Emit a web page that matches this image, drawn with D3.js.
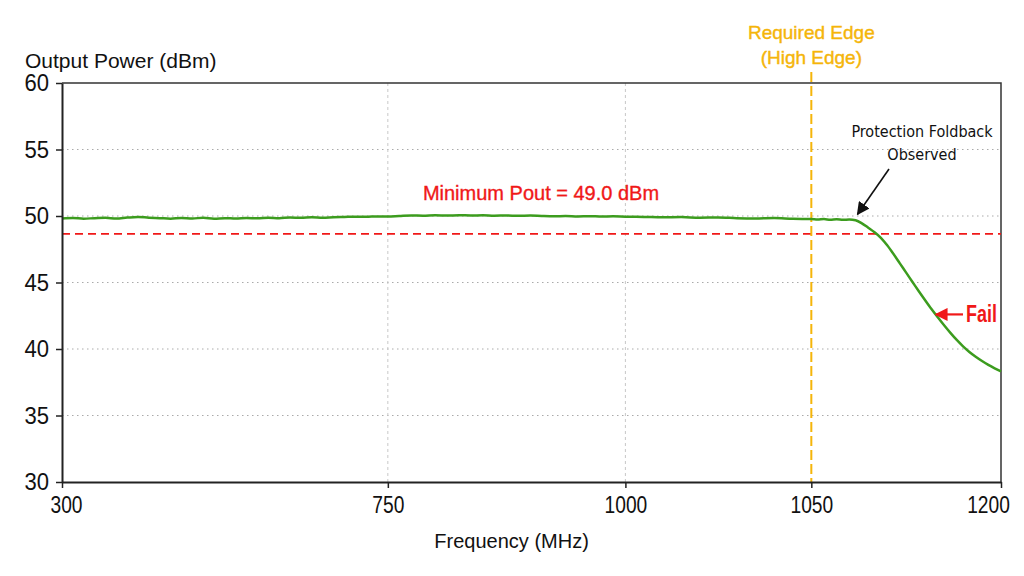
<!DOCTYPE html>
<html>
<head>
<meta charset="utf-8">
<script src="https://cdn.jsdelivr.net/npm/d3@7"></script>
<style>
  body { margin: 0; background: #fff; }
  text { font-family: "Liberation Sans", Arial, sans-serif; }
  .narrow { font-family: "DejaVu Sans Condensed", "Liberation Sans", sans-serif; }
</style>
</head>
<body>
<div id="container"></div>
<script>
/* CONSTANTS AND GLOBALS */
const width = 1024,
  height = 576,
  margin = { top: 83, bottom: 94, left: 62, right: 23 };

/* DATA */
// frequency (MHz) and measured output power (dBm)
const freq = [
  300, 315, 330, 345, 360, 375, 390, 405, 420, 435, 450, 465, 480, 495, 510, 525,
  540, 555, 570, 585, 600, 615, 630, 645, 660, 675, 690, 705, 720, 735, 750,
  762, 775, 787, 800, 812, 825, 837, 850, 862, 875, 887, 900, 912, 925, 937, 950,
  962, 975, 987, 1000, 1005, 1010, 1015, 1020, 1025, 1030, 1035, 1040, 1045, 1050,
  1055, 1060, 1065, 1070, 1075, 1080, 1085, 1090, 1095, 1100, 1105, 1110, 1115,
  1120, 1125, 1130, 1135, 1140, 1145, 1150, 1155, 1160, 1165, 1170, 1175, 1180,
  1185, 1190, 1195, 1200
];
const pout = [
  49.82, 49.85, 49.80, 49.84, 49.86, 49.81, 49.88, 49.93, 49.87, 49.84, 49.80, 49.85, 49.82, 49.86, 49.80, 49.84,
  49.81, 49.85, 49.83, 49.87, 49.84, 49.88, 49.86, 49.90, 49.87, 49.91, 49.93, 49.95, 49.94, 49.97, 49.96,
  50.00, 50.04, 50.02, 50.05, 50.03, 50.06, 50.04, 50.05, 50.02, 50.04, 50.01, 50.03, 50.00, 49.98, 50.00, 49.97,
  49.99, 49.96, 49.98, 49.95, 49.93, 49.90, 49.92, 49.87, 49.89, 49.84, 49.82, 49.85, 49.79, 49.77,
  49.74, 49.77, 49.72, 49.75, 49.71, 49.74, 49.68, 49.45, 49.12, 48.78, 48.36, 47.80, 47.14,
  46.44, 45.74, 45.04, 44.34, 43.66, 43.00, 42.38, 41.78, 41.21, 40.68, 40.20, 39.78, 39.42,
  39.10, 38.81, 38.55, 38.31
];

const xTicks = [300, 750, 1000, 1050, 1200];
const xTickFrac = [0, 0.347, 0.6, 0.798, 1]; // uneven spacing of the frequency axis
const yTicks = [30, 35, 40, 45, 50, 55, 60];

const minPoutLine = 48.65;
const minPoutLabel = "Minimum Pout = 49.0 dBm";
const edgeFreq = 1050;
const foldbackPoint = { f: 1085, p: 49.68 };
const failPoint = { f: 1148.5, p: 42.6 };

const data = freq.map((f, i) => ({ f, p: pout[i] }));

/* SCALES */
const plotW = width - margin.left - margin.right;
const xScale = d3.scaleLinear()
  .domain(xTicks)
  .range(xTickFrac.map(t => margin.left + t * plotW));

const yScale = d3.scaleLinear()
  .domain([30, 60])
  .range([height - margin.bottom, margin.top]);

/* HTML ELEMENTS */
const svg = d3.select("#container")
  .append("svg")
  .attr("width", width)
  .attr("height", height);

const defs = svg.append("defs");
function arrowMarker(id, color, size) {
  defs.append("marker")
    .attr("id", id)
    .attr("viewBox", "0 0 10 10")
    .attr("refX", 9).attr("refY", 5)
    .attr("markerWidth", size).attr("markerHeight", size)
    .attr("markerUnits", "userSpaceOnUse")
    .attr("orient", "auto")
    .append("path")
    .attr("d", "M0,0 L10,5 L0,10 Z")
    .attr("fill", color);
}
arrowMarker("arrBlack", "#111", 13);
arrowMarker("arrRed", "#f01818", 13);

// grid
svg.append("g")
  .selectAll("line")
  .data(yTicks.filter(d => d > 30 && d < 60))
  .join("line")
  .attr("x1", margin.left).attr("x2", width - margin.right)
  .attr("y1", d => yScale(d)).attr("y2", d => yScale(d))
  .attr("stroke", "#aaa")
  .attr("stroke-width", 1)
  .attr("stroke-dasharray", "1.5,3.5");

svg.append("g")
  .selectAll("line")
  .data([750, 1000])
  .join("line")
  .attr("x1", d => xScale(d)).attr("x2", d => xScale(d))
  .attr("y1", margin.top).attr("y2", height - margin.bottom)
  .attr("stroke", "#c8c8c8")
  .attr("stroke-width", 1)
  .attr("stroke-dasharray", "3,3");

// frame (top + right)
svg.append("path")
  .attr("d", `M${margin.left},${margin.top} H${width - margin.right} V${height - margin.bottom}`)
  .attr("fill", "none")
  .attr("stroke", "#333")
  .attr("stroke-width", 1.5);

// minimum Pout line
svg.append("line")
  .attr("x1", margin.left).attr("x2", width - margin.right)
  .attr("y1", yScale(minPoutLine)).attr("y2", yScale(minPoutLine))
  .attr("stroke", "#f01818")
  .attr("stroke-width", 1.8)
  .attr("stroke-dasharray", "8,5");

// required edge line
svg.append("line")
  .attr("x1", xScale(edgeFreq)).attr("x2", xScale(edgeFreq))
  .attr("y1", 72).attr("y2", height - margin.bottom)
  .attr("stroke", "#f5b50a")
  .attr("stroke-width", 2)
  .attr("stroke-dasharray", "10,4");

// measured curve
const line = d3.line()
  .x(d => xScale(d.f))
  .y(d => yScale(d.p))
  .curve(d3.curveMonotoneX);

svg.append("path")
  .datum(data)
  .attr("d", line)
  .attr("fill", "none")
  .attr("stroke", "#3c9c1e")
  .attr("stroke-width", 2.5);

// axes
const xAxis = d3.axisBottom(xScale)
  .tickValues(xTicks)
  .tickFormat(d3.format("d"))
  .tickSize(6).tickPadding(8).tickSizeOuter(0);
const gx = svg.append("g")
  .attr("transform", `translate(0, ${height - margin.bottom})`)
  .call(xAxis);
gx.select(".domain").attr("stroke", "#222").attr("stroke-width", 2);
gx.selectAll(".tick line").attr("stroke", "#222").attr("stroke-width", 1.5);
gx.selectAll(".tick text")
  .attr("font-size", 24)
  .attr("font-family", "'Liberation Sans', Arial, sans-serif")
  .attr("fill", "#111")
  .attr("transform", d => `translate(${d === 300 ? 4 : d === 1200 ? -13 : 0},0) scale(0.8,1)`);

const yAxis = d3.axisLeft(yScale).tickValues(yTicks).tickSize(6).tickPadding(8).tickSizeOuter(0);
const gy = svg.append("g")
  .attr("transform", `translate(${margin.left}, 0)`)
  .call(yAxis);
gy.select(".domain").attr("stroke", "#222").attr("stroke-width", 2);
gy.selectAll(".tick line").attr("stroke", "#222").attr("stroke-width", 1.5);
gy.selectAll(".tick text")
  .attr("font-size", 24)
  .attr("font-family", "'Liberation Sans', Arial, sans-serif")
  .attr("fill", "#111")
  .attr("transform", "scale(0.92,1)");

// axis titles
svg.append("text")
  .attr("x", 25).attr("y", 68)
  .attr("font-size", 21)
  .attr("fill", "#111")
  .text("Output Power (dBm)");

svg.append("text")
  .attr("x", (xScale(750) + xScale(1000)) / 2 + 5).attr("y", 548)
  .attr("text-anchor", "middle")
  .attr("font-size", 20)
  .attr("fill", "#111")
  .text("Frequency (MHz)");

// annotations
svg.append("text")
  .attr("x", 541).attr("y", 200)
  .attr("text-anchor", "middle")
  .attr("font-size", 20)
  .attr("fill", "#f01818")
  .attr("stroke", "#f01818")
  .attr("stroke-width", 0.35)
  .text(minPoutLabel);

svg.append("text")
  .attr("text-anchor", "middle")
  .attr("font-size", 19)
  .attr("fill", "#f5b50a")
  .attr("stroke", "#f5b50a")
  .attr("stroke-width", 0.4)
  .selectAll("tspan")
  .data(["Required Edge", "(High Edge)"])
  .join("tspan")
  .attr("x", xScale(edgeFreq))
  .attr("y", (d, i) => 39 + i * 25)
  .text(d => d);

svg.append("text")
  .attr("class", "narrow")
  .attr("text-anchor", "middle")
  .attr("font-size", 16)
  .attr("fill", "#111")
  .selectAll("tspan")
  .data(["Protection Foldback", "Observed"])
  .join("tspan")
  .attr("x", 922)
  .attr("y", (d, i) => 137 + i * 23)
  .text(d => d);

svg.append("line")
  .attr("x1", 889).attr("y1", 169)
  .attr("x2", xScale(foldbackPoint.f) + 2).attr("y2", yScale(foldbackPoint.p) - 6)
  .attr("stroke", "#111")
  .attr("stroke-width", 1.6)
  .attr("marker-end", "url(#arrBlack)");

svg.append("line")
  .attr("x1", 963).attr("y1", yScale(failPoint.p))
  .attr("x2", xScale(failPoint.f)).attr("y2", yScale(failPoint.p))
  .attr("stroke", "#f01818")
  .attr("stroke-width", 2.2)
  .attr("marker-end", "url(#arrRed)");

svg.append("text")
  .attr("transform", `translate(966, ${yScale(failPoint.p) + 8}) scale(0.78,1)`)
  .attr("font-size", 23)
  .attr("font-weight", "bold")
  .attr("fill", "#f01818")
  .text("Fail");
</script>
</body>
</html>
